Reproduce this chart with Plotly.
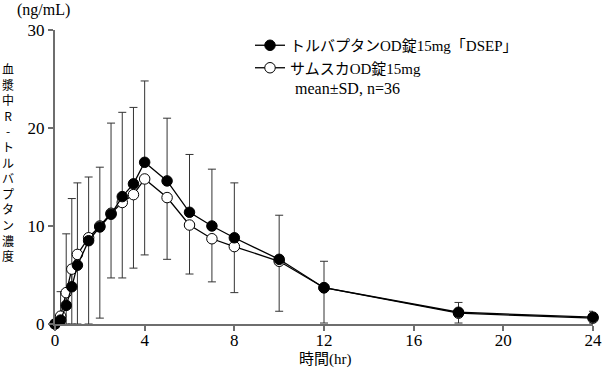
import plotly.graph_objects as go

# ---- data ----
time_hr = [0, 0.25, 0.5, 0.75, 1, 1.5, 2, 2.5, 3, 3.5, 4, 5, 6, 7, 8, 10, 12, 18, 24]
dsep_mean = [0, 0.4, 1.9, 3.8, 6.0, 8.5, 9.9, 11.2, 13.0, 14.3, 16.5, 14.6, 11.4, 10.0, 8.8, 6.6, 3.7, 1.2, 0.7]
dsep_sd_upper = [0, 2.9, 7.3, 9.0, 8.4, 6.5, 6.1, 9.3, 8.6, 7.8, 8.3, 6.4, 5.9, 5.8, 5.6, 4.5, 2.7, 1.0, 0.6]
samsca_mean = [0, 0.8, 3.2, 5.6, 7.1, 8.8, 10.0, 11.3, 12.4, 13.2, 14.8, 12.9, 10.1, 8.7, 7.9, 6.4, 3.7, 1.1, 0.6]
samsca_sd_lower = [0, 0.8, 3.2, 5.6, 7.1, 8.8, 9.4, 6.6, 7.7, 7.5, 7.75, 6.3, 5.0, 4.4, 4.7, 5.1, 3.6, 1.0, 0.5]

x_ticks = [0, 4, 8, 12, 16, 20, 24]
y_ticks = [0, 10, 20, 30]

name_dsep = "トルバプタンOD錠15mg「DSEP」"
name_samsca = "サムスカOD錠15mg"
note = "mean±SD, n=36"
y_title = "血漿中R-トルバプタン濃度"
y_unit = "(ng/mL)"
x_title = "時間(hr)"

FONT = "Liberation Serif, Noto Sans CJK JP, serif"
CJK_FONT = "Noto Sans CJK JP, sans-serif"
AXIS_COL = "#6e6e6e"
ERR_COL = "#333333"

W, H = 602, 371
ML, MR, MT, MB = 55, 9, 30, 47
PW, PH = W - ML - MR, H - MT - MB


def px_x(x):
    return (x - ML) / PW


def px_y(y):
    return (H - MB - y) / PH


fig = go.Figure()

# error bars first so markers draw above them
fig.add_trace(go.Scatter(
    x=time_hr, y=dsep_mean, mode="markers",
    marker=dict(size=1, color="rgba(0,0,0,0)"),
    error_y=dict(type="data", symmetric=False, array=dsep_sd_upper,
                 arrayminus=[0] * len(time_hr), color=ERR_COL, thickness=1, width=4),
    showlegend=False, hoverinfo="skip", cliponaxis=False))
fig.add_trace(go.Scatter(
    x=time_hr, y=samsca_mean, mode="markers",
    marker=dict(size=1, color="rgba(0,0,0,0)"),
    error_y=dict(type="data", symmetric=False, array=[0] * len(time_hr),
                 arrayminus=[min(s, m) for s, m in zip(samsca_sd_lower, samsca_mean)],
                 color=ERR_COL, thickness=1, width=4),
    showlegend=False, hoverinfo="skip", cliponaxis=False))

fig.add_trace(go.Scatter(
    x=time_hr, y=samsca_mean, mode="lines+markers", name=name_samsca,
    line=dict(color="black", width=1.3),
    marker=dict(size=10.5, color="white", line=dict(color="black", width=1)),
    cliponaxis=False))
fig.add_trace(go.Scatter(
    x=time_hr, y=dsep_mean, mode="lines+markers", name=name_dsep,
    line=dict(color="black", width=1.3),
    marker=dict(size=10.5, color="black", line=dict(color="black", width=1)),
    cliponaxis=False))

annotations = [
    dict(text=note, xref="paper", yref="paper", x=px_x(293), y=px_y(88),
         xanchor="left", yanchor="middle", showarrow=False, font=dict(family=FONT, size=16)),
    dict(text=y_unit, xref="paper", yref="paper", x=px_x(43), y=px_y(10),
         xanchor="center", yanchor="middle", showarrow=False, font=dict(family=FONT, size=16)),
    dict(text=x_title, xref="paper", yref="paper", x=px_x(325), y=px_y(359),
         xanchor="center", yanchor="middle", showarrow=False, font=dict(family=FONT, size=15)),
    # vertical (stacked) y-axis title, one character per line
    dict(text="<br>".join(list(y_title)), xref="paper", yref="paper", x=px_x(8),
         y=px_y(162), xanchor="center", yanchor="middle", showarrow=False,
         font=dict(family=CJK_FONT, size=12)),
]

fig.update_layout(
    width=W, height=H,
    margin=dict(l=ML, r=MR, t=MT, b=MB, autoexpand=False),
    paper_bgcolor="white", plot_bgcolor="white",
    font=dict(family=FONT, size=16, color="black"),
    legend=dict(x=px_x(250), y=px_y(29), xanchor="left", yanchor="top",
                traceorder="reversed", bgcolor="rgba(0,0,0,0)",
                font=dict(family=FONT, size=15), itemwidth=30,
                tracegroupgap=0),
    xaxis=dict(range=[0, 24], tickvals=x_ticks, ticktext=[str(v) for v in x_ticks],
               showgrid=False, zeroline=False, showline=True, linecolor=AXIS_COL,
               linewidth=2, ticks="outside", ticklen=5, tickcolor=AXIS_COL,
               tickwidth=1.5, tickfont=dict(family=FONT, size=17), automargin=False,
               ticklabelstandoff=-5),
    yaxis=dict(range=[0, 30], tickvals=y_ticks, ticktext=[str(v) for v in y_ticks],
               showgrid=False, zeroline=False, showline=True, linecolor=AXIS_COL,
               linewidth=2, ticks="outside", ticklen=5, tickcolor=AXIS_COL,
               tickwidth=1.5, tickfont=dict(family=FONT, size=17), automargin=False),
    annotations=annotations,
)

fig.write_html("out.html", config={"displayModeBar": False},
               post_script="document.body.style.margin='0';")
